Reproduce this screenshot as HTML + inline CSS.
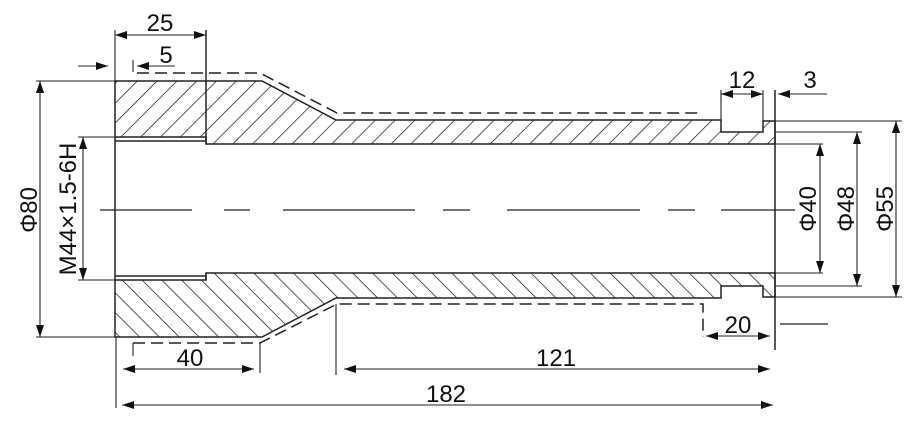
<!DOCTYPE html>
<html><head><meta charset="utf-8"><style>
html,body{margin:0;padding:0;background:#fff;}
svg{display:block;}
text{font-family:"Liberation Sans",sans-serif;font-size:24px;fill:#111;}
</style></head><body>
<svg width="918" height="434" viewBox="0 0 918 434" xmlns="http://www.w3.org/2000/svg">
<defs>
<pattern id="h1" patternUnits="userSpaceOnUse" width="14" height="14" patternTransform="rotate(45)">
<line x1="0" y1="0" x2="0" y2="14" stroke="#111" stroke-width="1.4"/></pattern>
<pattern id="h2" patternUnits="userSpaceOnUse" width="14" height="14" patternTransform="rotate(-45)">
<line x1="0" y1="0" x2="0" y2="14" stroke="#111" stroke-width="1.4"/></pattern>
<marker id="a" viewBox="0 0 12 8" refX="12" refY="4" markerWidth="12" markerHeight="8" orient="auto-start-reverse" markerUnits="userSpaceOnUse">
<path d="M0,0 L12,4 L0,8 z" fill="#111"/></marker>
</defs>
<g stroke="#222" stroke-width="1.5" fill="none">
<path d="M115,81 L262,81 L336,120 L721,120 L721,132 L763,132 L763,121 L775,121 L775,144 L206,144 L206,137 L115,137 Z" fill="url(#h1)"/>
<path d="M115,280 L206,280 L206,273 L775,273 L775,297 L763,297 L763,286 L721,286 L721,298 L336,298 L262,337 L115,337 Z" fill="url(#h2)"/>
<line x1="115" y1="141" x2="206" y2="141"/>
<line x1="115" y1="276" x2="206" y2="276"/>
<line x1="115" y1="137" x2="115" y2="280"/>
<line x1="206" y1="30" x2="206" y2="144"/>
<line x1="206" y1="273" x2="206" y2="280"/>
<line x1="775" y1="90" x2="775" y2="350"/>
<g stroke-dasharray="12,6">
<polyline points="137,73 260,73 337,113 703,113"/>
<polyline points="133,343 260,343 337,304 703,304 703,337"/>
</g>
<g stroke-width="1.2">
<line x1="100" y1="210" x2="192" y2="210"/><line x1="224" y1="210" x2="250" y2="210"/>
<line x1="283" y1="210" x2="415" y2="210"/><line x1="443" y1="210" x2="470" y2="210"/>
<line x1="507" y1="210" x2="640" y2="210"/><line x1="668" y1="210" x2="695" y2="210"/>
<line x1="721" y1="210" x2="795" y2="210"/>
</g>
<line x1="780" y1="324" x2="828" y2="324" stroke-width="1.2"/>
<g stroke-width="1.1">
<line x1="115" y1="30" x2="115" y2="81"/>
<line x1="133" y1="60" x2="133" y2="72"/>
<line x1="36" y1="81" x2="115" y2="81"/>
<line x1="36" y1="337" x2="115" y2="337"/>
<line x1="78" y1="137" x2="115" y2="137"/>
<line x1="78" y1="280" x2="115" y2="280"/>
<line x1="721" y1="90" x2="721" y2="120"/>
<line x1="763" y1="90" x2="763" y2="121"/>
<line x1="775" y1="121" x2="902" y2="121"/>
<line x1="775" y1="132" x2="862" y2="132"/>
<line x1="775" y1="144" x2="823" y2="144"/>
<line x1="775" y1="273" x2="823" y2="273"/>
<line x1="775" y1="286" x2="862" y2="286"/>
<line x1="775" y1="297" x2="902" y2="297"/>
<line x1="116" y1="337" x2="116" y2="408"/>
<line x1="133" y1="343" x2="133" y2="356"/>
<line x1="260" y1="343" x2="260" y2="373"/>
<line x1="336" y1="304" x2="336" y2="375"/>
</g>
<g stroke-width="1.1">
<line x1="115" y1="35" x2="206" y2="35" marker-start="url(#a)" marker-end="url(#a)"/>
<line x1="78" y1="66" x2="108" y2="66" marker-end="url(#a)"/>
<line x1="175" y1="66" x2="137" y2="66" marker-end="url(#a)"/>
<line x1="721" y1="94" x2="763" y2="94" marker-start="url(#a)" marker-end="url(#a)"/>
<line x1="827" y1="94" x2="778" y2="94" marker-end="url(#a)"/>
<line x1="40" y1="81" x2="40" y2="337" marker-start="url(#a)" marker-end="url(#a)"/>
<line x1="83" y1="137" x2="83" y2="280" marker-start="url(#a)" marker-end="url(#a)"/>
<line x1="820" y1="144" x2="820" y2="273" marker-start="url(#a)" marker-end="url(#a)"/>
<line x1="857" y1="132" x2="857" y2="286" marker-start="url(#a)" marker-end="url(#a)"/>
<line x1="896" y1="121" x2="896" y2="297" marker-start="url(#a)" marker-end="url(#a)"/>
<line x1="123" y1="369" x2="254" y2="369" marker-start="url(#a)" marker-end="url(#a)"/>
<line x1="344" y1="369" x2="770" y2="369" marker-start="url(#a)" marker-end="url(#a)"/>
<line x1="122" y1="405" x2="773" y2="405" marker-start="url(#a)" marker-end="url(#a)"/>
<line x1="706" y1="336" x2="770" y2="336" marker-start="url(#a)" marker-end="url(#a)"/>
</g>
</g>
<text x="160" y="31" text-anchor="middle">25</text>
<text x="166" y="63" text-anchor="middle">5</text>
<text x="742" y="88" text-anchor="middle">12</text>
<text x="810" y="88" text-anchor="middle">3</text>
<text x="190" y="366" text-anchor="middle">40</text>
<text x="556" y="366" text-anchor="middle">121</text>
<text x="446" y="402" text-anchor="middle">182</text>
<text x="738" y="333" text-anchor="middle">20</text>
<text transform="translate(37,210) rotate(-90)" text-anchor="middle">Φ80</text>
<text transform="translate(76,209) rotate(-90)" text-anchor="middle">M44×1.5-6H</text>
<text transform="translate(816,209) rotate(-90)" text-anchor="middle">Φ40</text>
<text transform="translate(854,209) rotate(-90)" text-anchor="middle">Φ48</text>
<text transform="translate(893,209) rotate(-90)" text-anchor="middle">Φ55</text>
</svg>
</body></html>
